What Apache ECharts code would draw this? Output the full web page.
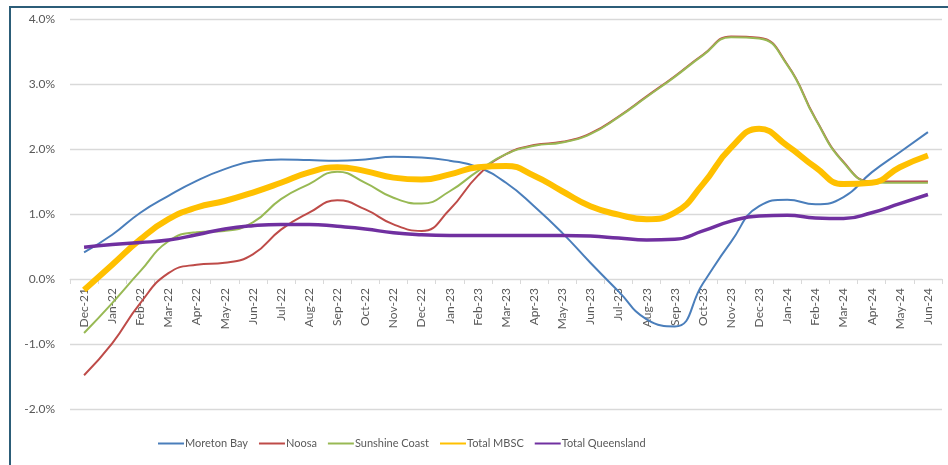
<!DOCTYPE html>
<html>
<head>
<meta charset="utf-8">
<script src="https://cdn.jsdelivr.net/npm/echarts@6/dist/echarts.min.js"></script>
<style>
html,body{margin:0;padding:0;background:#fff;}
#chart{width:948px;height:465px;}
</style>
</head>
<body>
<div id="chart"></div>
<script>
const categories = ['Dec-21','Jan-22','Feb-22','Mar-22','Apr-22','May-22','Jun-22','Jul-22','Aug-22','Sep-22','Oct-22','Nov-22','Dec-22','Jan-23','Feb-23','Mar-23','Apr-23','May-23','Jun-23','Jul-23','Aug-23','Sep-23','Oct-23','Nov-23','Dec-23','Jan-24','Feb-24','Mar-24','Apr-24','May-24','Jun-24'];

const moretonBay = [0.41,0.68,1.02,1.28,1.51,1.69,1.81,1.84,1.83,1.82,1.84,1.88,1.87,1.82,1.72,1.48,1.12,0.71,0.25,-0.19,-0.62,-0.73,-0.07,0.57,1.12,1.22,1.15,1.26,1.64,1.95,2.26];
const noosa = [-1.48,-0.99,-0.37,0.09,0.22,0.25,0.38,0.76,1.02,1.21,1.07,0.84,0.74,1.07,1.59,1.92,2.06,2.11,2.24,2.50,2.81,3.12,3.45,3.73,3.71,3.30,2.47,1.80,1.50,1.50,1.50];
const sunshineCoast = [-0.83,-0.37,0.12,0.58,0.72,0.74,0.87,1.23,1.46,1.65,1.48,1.25,1.16,1.35,1.66,1.92,2.05,2.10,2.23,2.49,2.80,3.11,3.44,3.72,3.70,3.29,2.46,1.79,1.49,1.48,1.48];
const totalMBSC = [-0.17,0.22,0.61,0.92,1.10,1.20,1.33,1.48,1.64,1.72,1.66,1.56,1.53,1.61,1.72,1.74,1.59,1.35,1.12,0.99,0.92,1.02,1.46,2.02,2.31,2.05,1.72,1.46,1.48,1.72,1.90];
const totalQueensland = [0.49,0.53,0.56,0.60,0.68,0.77,0.82,0.84,0.84,0.81,0.77,0.71,0.68,0.67,0.67,0.67,0.67,0.67,0.66,0.63,0.60,0.61,0.74,0.89,0.97,0.98,0.94,0.93,1.02,1.16,1.30];

const seriesNames = ['Moreton Bay','Noosa','Sunshine Coast','Total MBSC','Total Queensland'];
const yTicks = [-2,-1,0,1,2,3,4];

const chart = echarts.init(document.getElementById('chart'), null, {renderer:'canvas'});
const font = 'Lato, "Open Sans", sans-serif';
const mk = (name, data, color, width) => ({
  name, type:'line', data, smooth:0.5, symbol:'none', showSymbol:false,
  lineStyle:{color, width}, itemStyle:{color}
});
// pixel distance between the grid bottom (-2%) and the zero line
const gridTop = 19, gridBottom = 56, plotH = 465 - gridTop - gridBottom;
const zeroOffset = -plotH * (0 - yTicks[0]) / (yTicks[yTicks.length-1] - yTicks[0]);
chart.setOption({
  animation:false,
  backgroundColor:'#fff',
  grid:{left:70, right:6, top:gridTop, bottom:gridBottom, containLabel:false},
  graphic:[{type:'rect', shape:{x:10,y:7,width:1200,height:800}, style:{fill:'none', stroke:'#2c5d78', lineWidth:2}, silent:true}],
  legend:{
    left:152, top:433, itemWidth:26, itemHeight:3, itemGap:10,
    itemStyle:{opacity:0},
    textStyle:{color:'#595959', fontSize:11, fontFamily:font, padding:[0,0,0,-4]},
    data:seriesNames
  },
  xAxis:{
    type:'category', data:categories, boundaryGap:true, position:'bottom', offset:zeroOffset,
    axisLine:{onZero:false, lineStyle:{color:'#d9d9d9', width:1}},
    axisTick:{show:true, length:5, lineStyle:{color:'#d9d9d9'}},
    axisLabel:{rotate:90, color:'#595959', fontSize:12, fontFamily:font, margin:9, interval:0},
    splitLine:{show:false}
  },
  yAxis:{
    type:'value', min:yTicks[0], max:yTicks[yTicks.length-1], interval:1,
    axisLine:{show:false}, axisTick:{show:false},
    axisLabel:{color:'#595959', fontSize:12, fontFamily:font, margin:15, formatter:v=>v.toFixed(1)+'%'},
    splitLine:{lineStyle:{color:'#d9d9d9', width:1.3}}
  },
  series:[
    mk(seriesNames[0], moretonBay, '#4a7ebb', 2),
    mk(seriesNames[1], noosa, '#be4b48', 2),
    mk(seriesNames[2], sunshineCoast, '#98b954', 2),
    mk(seriesNames[3], totalMBSC, '#ffc000', 6),
    mk(seriesNames[4], totalQueensland, '#7030a0', 3.5)
  ]
});
</script>
</body>
</html>
